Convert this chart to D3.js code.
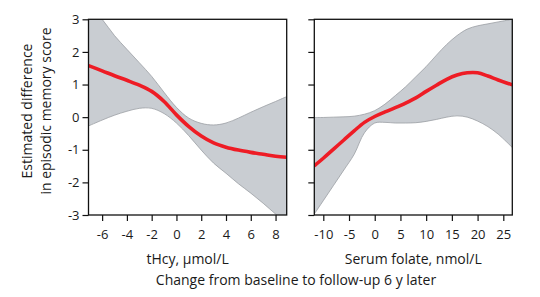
<!DOCTYPE html>
<html>
<head>
<meta charset="utf-8">
<script src="https://cdn.jsdelivr.net/npm/d3@7"></script>
<style>
  body { margin: 0; background: #fff; }
  svg text { font-family: "Open Sans", sans-serif; fill: #1a1a1a; }
</style>
</head>
<body>
<svg class="chart"></svg>
<script>
// values
var yTicks = [-3, -2, -1, 0, 1, 2, 3];

var hcyX     = [-7.1, -6, -5, -4, -3, -2, -1, 0, 1, 2, 3, 4, 5, 6, 7, 8, 8.9];
var hcyFit   = [1.58, 1.42, 1.27, 1.13, 0.98, 0.79, 0.48, 0.07, -0.29, -0.58, -0.79, -0.92, -1.01, -1.08, -1.14, -1.2, -1.23];
var hcyUpper = [3.45, 3.0, 2.5, 2.08, 1.67, 1.25, 0.76, 0.30, -0.03, -0.19, -0.24, -0.18, -0.03, 0.15, 0.32, 0.48, 0.63];
var hcyLower = [-0.27, -0.09, 0.06, 0.18, 0.27, 0.27, 0.11, -0.18, -0.57, -1.01, -1.41, -1.72, -2.04, -2.33, -2.64, -2.97, -3.25];
var hcyTicks = [-6, -4, -2, 0, 2, 4, 6, 8];

var folX     = [-11.75, -10, -8, -6, -4, -2, 0, 2, 4, 6, 8, 10, 12, 14, 16, 18, 20, 22, 24, 26.75];
var folFit   = [-1.49, -1.26, -0.98, -0.70, -0.42, -0.16, 0.02, 0.16, 0.29, 0.43, 0.59, 0.79, 0.98, 1.16, 1.29, 1.36, 1.36, 1.26, 1.14, 0.99];
var folUpper = [-0.01, -0.01, 0.0, 0.01, 0.03, 0.09, 0.2, 0.4, 0.66, 0.93, 1.24, 1.55, 1.9, 2.23, 2.5, 2.7, 2.8, 2.86, 2.92, 3.0];
var folLower = [-2.97, -2.56, -2.09, -1.62, -1.14, -0.48, -0.18, -0.16, -0.18, -0.18, -0.17, -0.13, -0.07, 0.0, 0.04, 0.0, -0.12, -0.29, -0.52, -0.93];
var folTicks = [-10, -5, 0, 5, 10, 15, 20, 25];

var width = 540, height = 297;
var plotTop = 19.3, plotBottom = 215;

var svg = d3.select('.chart')
    .attr('width', width)
    .attr('height', height);

var y = d3.scaleLinear().domain([-3, 3]).range([plotBottom, plotTop]);

var panels = [
    { id: 'hcy', left: 88.5, right: 286.7, domain: [-7.1, 8.9], xs: hcyX, fit: hcyFit,
      upper: hcyUpper, lower: hcyLower, ticks: hcyTicks, title: 'tHcy, \u00b5mol/L', yLabels: true },
    { id: 'fol', left: 314.3, right: 512.3, domain: [-11.75, 26.75], xs: folX, fit: folFit,
      upper: folUpper, lower: folLower, ticks: folTicks, title: 'Serum folate, nmol/L', yLabels: false }
];

panels.forEach(function (p) {
    var x = d3.scaleLinear().domain(p.domain).range([p.left, p.right]);
    var rows = p.xs.map(function (v, i) {
        return { x: v, fit: p.fit[i], hi: p.upper[i], lo: p.lower[i] };
    });

    svg.append('clipPath').attr('id', 'clip-' + p.id)
        .append('rect')
        .attr('x', p.left).attr('y', plotTop)
        .attr('width', p.right - p.left).attr('height', plotBottom - plotTop);

    var g = svg.append('g').attr('clip-path', 'url(#clip-' + p.id + ')');

    var band = d3.area()
        .x(function (d) { return x(d.x); })
        .y0(function (d) { return y(d.lo); })
        .y1(function (d) { return y(d.hi); })
        .curve(d3.curveCatmullRom);

    g.append('path')
        .attr('d', band(rows))
        .attr('fill', '#c9cdd2')
        .attr('stroke', '#9b9ea3')
        .attr('stroke-width', 0.8);

    var line = d3.line()
        .x(function (d) { return x(d.x); })
        .y(function (d) { return y(d.fit); })
        .curve(d3.curveCatmullRom);

    g.append('path')
        .attr('d', line(rows))
        .attr('fill', 'none')
        .attr('stroke', '#ee1c25')
        .attr('stroke-width', 3.6);

    // frame
    svg.append('rect')
        .attr('x', p.left).attr('y', plotTop)
        .attr('width', p.right - p.left).attr('height', plotBottom - plotTop)
        .attr('fill', 'none')
        .attr('stroke', '#111')
        .attr('stroke-width', 1.3);

    var yAxis = d3.axisLeft(y).tickValues(yTicks).tickSize(6).tickPadding(3);
    var ya = svg.append('g')
        .attr('transform', 'translate(' + p.left + ',0)')
        .call(yAxis);

    var xAxis = d3.axisBottom(x).tickValues(p.ticks).tickSize(6).tickPadding(9);
    var xa = svg.append('g')
        .attr('transform', 'translate(0,' + plotBottom + ')')
        .call(xAxis);

    [ya, xa].forEach(function (a) {
        a.select('.domain').remove();
        a.selectAll('line').attr('stroke', '#111').attr('stroke-width', 1.2);
        a.selectAll('text').style('font-size', '13px')
            .style('font-family', '"Open Sans", sans-serif').attr('fill', '#1a1a1a');
    });
    // plain hyphen for negatives, like the source
    xa.selectAll('text').text(function (d) { return String(d); });
    ya.selectAll('text').text(function (d) { return p.yLabels ? String(d) : ''; });

    svg.append('text')
        .attr('x', (p.left + p.right) / 2)
        .attr('y', 264)
        .attr('text-anchor', 'middle')
        .style('font-size', '14px')
        .text(p.title);
});

svg.append('text')
    .attr('x', 296)
    .attr('y', 284.5)
    .attr('text-anchor', 'middle')
    .style('font-size', '14px')
    .text('Change from baseline to follow-up 6 y later');

var yTitle = svg.append('text')
    .attr('transform', 'translate(32,111) rotate(-90)')
    .attr('text-anchor', 'middle')
    .style('font-size', '14px');
yTitle.append('tspan').attr('x', 0).attr('y', 0).text('Estimated difference');
yTitle.append('tspan').attr('x', 0).attr('y', 18.5).text('in episodic memory score');
</script>
</body>
</html>
